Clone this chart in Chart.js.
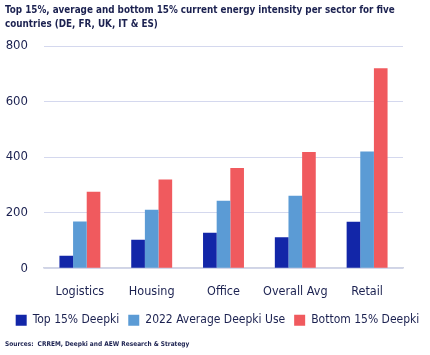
<!DOCTYPE html>
<html><head><meta charset="utf-8">
<script src="https://cdn.jsdelivr.net/npm/chart.js@4"></script>
<style>html,body{margin:0;padding:0;background:#fff}#wrap{width:430px;height:355px}</style>
</head><body><div id="wrap"><canvas id="c" width="430" height="355"></canvas></div>
<script>
const categories = ["Logistics", "Housing", "Office", "Overall Avg", "Retail"];
const top15 = [45, 102, 128, 111, 167];
const avg2022 = [168, 210, 243, 261, 420];
const bottom15 = [275, 319, 361, 418, 720];
const seriesNames = ["Top 15% Deepki", "2022 Average Deepki Use", "Bottom 15% Deepki"];
const yTicks = [0, 200, 400, 600, 800];
const titleLines = ["Top 15%, average and bottom 15% current energy intensity per sector for five", "countries (DE, FR, UK, IT & ES)"];
const sourceText = "Sources:  CRREM, Deepki and AEW Research & Strategy";

const FONT = "'DejaVu Sans Condensed', 'DejaVu Sans', sans-serif";
const TXT = "#1b2150";
Chart.defaults.font.family = FONT;
Chart.defaults.color = TXT;

new Chart(document.getElementById('c'), {
  type: 'bar',
  data: {
    labels: categories,
    datasets: [
      {label: seriesNames[0], data: top15, backgroundColor: '#1226a8', yAxisID: 'y'},
      {label: seriesNames[1], data: avg2022, backgroundColor: '#5b9bd5', yAxisID: 'y'},
      {label: seriesNames[2], data: bottom15, backgroundColor: '#f05a5e', yAxisID: 'y'}
    ]
  },
  options: {
    responsive: false,
    animation: false,
    layout: {padding: {left: 5, right: 0, top: 0, bottom: 0}},
    datasets: {bar: {categoryPercentage: 0.57, barPercentage: 1.0}},
    scales: {
      x: {
        grid: {display: false, drawTicks: false},
        border: {color: '#d0d4e4', width: 1.5},
        ticks: {font: {size: 12.5}, color: TXT, padding: 16, autoSkip: false, maxRotation: 0, minRotation: 0},
        afterFit: (s) => { s.height = 37; }
      },
      y: {
        min: 0, max: 800,
        afterBuildTicks: (ax) => { ax.ticks = yTicks.map(v => ({value: v})); },
        grid: {color: '#d4d8ee', drawTicks: false, lineWidth: 1},
        border: {display: false},
        ticks: {font: {size: 13}, color: TXT, padding: 16},
        afterFit: (s) => { s.width = 39; }
      },
      yr: {
        position: 'right',
        grid: {display: false, drawTicks: false},
        border: {display: false},
        ticks: {display: false},
        afterFit: (s) => { s.width = 27; }
      }
    },
    plugins: {
      legend: {
        position: 'bottom',
        labels: {boxWidth: 11, boxHeight: 11, font: {size: 12}, color: TXT, padding: 9}
      },
      title: {
        display: true, text: titleLines, align: 'start',
        font: {size: 9.8, weight: 'bold', lineHeight: '14px'}, color: TXT,
        padding: {top: 3, bottom: 15}
      },
      subtitle: {
        display: true, text: sourceText, position: 'bottom', align: 'start',
        font: {size: 6.5, weight: 'bold'}, color: TXT,
        padding: {top: 4, bottom: 7}
      },
      tooltip: {enabled: false}
    }
  }
});
</script></body></html>
